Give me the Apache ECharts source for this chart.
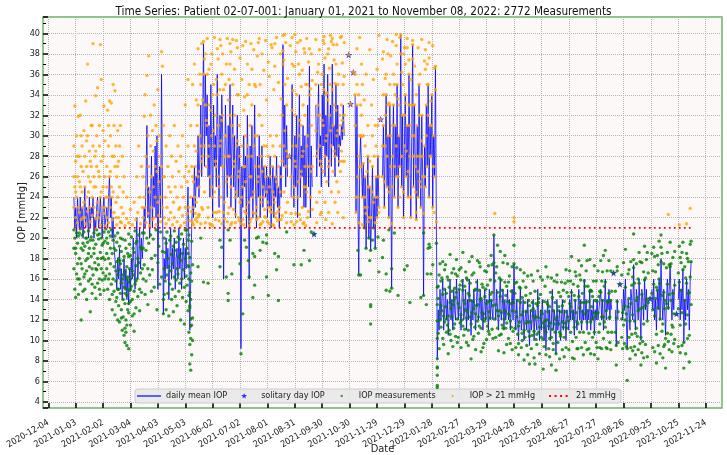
<!DOCTYPE html>
<html><head><meta charset="utf-8">
<script src="https://cdn.jsdelivr.net/npm/echarts@6/dist/echarts.min.js"></script>
<style>html,body{margin:0;padding:0;background:#fff}#c{width:727px;height:455px}</style>
</head><body><div id="c"></div>
<script>
// day index d = days since 2021-01-01
const titleText = 'Time Series: Patient 02-07-001: January 01, 2021 to November 08, 2022: 2772 Measurements';
const threshold = 21;
const firstDay = 0, lastDay = 676;

// daily mean IOP: [startDay, values...] ; breaks between segments
const meanSegments = [
 [0, 24,21,23,20,24,22,21,24,21,23,20,22,25,21,23,22,20,24,21,23,22,24,20,22,21,23,24,21,22,24,22,20,23,24,21,22,
  23,21,24,26,22,24,20,22,19,18,
  17,15,18,16,19,15,17,14,16,18,15,17,14,16,13.5,17,15,18,16,20,17,15,19,22,16,18,21,17,20,18,
  20,23,21,26,31,22,25,20,24,28,21,26,23,29,22,30,15,24,27,22,36,25,12.6,
  18,16,20,17,19,14,18,21,16,19,17,20,15,18,19,16,21,17,19,15,18,20,16,19,17,22,25,19,11,16,21,
  24,22,27,23,26,25,30,24,28,33,26,31,39,27,36,30,
  34,26,31,24,35,28,22,33,27,30,25,36,29,23,32,27,34,
  30,16,26,33,
  28,24,31,26,35,23,29,33,25,30,22,27,32,24,29,26,
  9.2,
  27,23,30,25,28,21,32,26,16,29,24,31,22,27,33,25,21,28,24,30,22,26,29,23,27,25,
  24,27,22,26,23,28,21,25,27,22,26,24,28,23,25,21,27,24,
  30,38.9,27,33,25,31,26],
 [238, 24,35,27,23,30,25,32,22,28,34,24,29,26,31,23,30,23,27,33,25,36.8,22,29,25],
 [265, 33,26,31,35,27,30,25,34,29,37,26,32,28,36,25,30,33,27,37,29,31,26,35,28,33,27,30,29,31,29.6,33,30],
 [308, 34,22.5,33,24,16.4,27,30,29.9,24,27.3,21,26,19,23,28,20,25,18.8,22,27,21,24,19,26,22,28,23],
 [338, 26,31,23,29,34,25,30,22,33,27,15.1,
  28,33,24,31,26,35,23,30,27,39.9,25,32,22,29,34,26,31,24,36,28,22,30,38.9,25,33,27,21.8,31,24,35,28,23,32,26,
  14.4,29,25,33,27,35,24,31,28,34,23,30,26,36.8,21.6,8.2,
  13,11,15,12,14,16,11,13,15,12,14,10.5,13,16,12,14,11,15,13,12,16,14,
  12,15,13,11,14,16,12,13,15,11,14,12,16,13,10.5,14,12,15,13,11,14,16,12,13,15,12,14,11,13,15,12,14,13,11,15,12,14,13,12,
  20.3,
  14,12,15,13,11,14,16,12,13,15,11,14,12,13,15,12,14,11,13,15,12,
  17.5,
  13,11,14,12,10,13,15,11,12,14,10,12,13,11,14,12,9.5,13,11,12,14,10,13,12,11,15,12,10,13,11,14,12,10,13,9,12,14,11,13,10,12,15,11,13,12,8.7,14,11,12,13,10,12,14,11,13,12,10,13,
  13,11,14,12,15,12,13,10.5,14,12,11,13,15,12,14,11,13,12,16,12,14,11,13,12,15,11,13,12,14,10.5,13,12,14,12,13,
  13,15,12,14,11,13,16,12,14,13,15,12,14,13],
 [593, 13,9.5,14,12],
 [600, 14,12,15,13,16,12,9.2,14,13,11,15,14,12,17.4,13,11,15,14,12,16,13,10,15,14,12,16,13,15,12,14],
 [633, 15,13,16,12,14,11,15,13,16,12,18,14,12,15,13,10.5,14,16,13,15,17.5,14,12,15,13,16],
 [662, 14,16,12,15,13,17,9.8,14,12,16,13,15,11,16,17.7]
];

// solitary days: [day, value]
const solitaryDays = [[236,28],[263,20.4],[301,37.9],[303,33.1],[306,36.2],[336,31.6],[591,16.6],[598,15.5],[631,14.1],[660,12.6]];

// individual measurements, first year: [day, values...]
const measurements = [
[0,23,26,29,20.8,19,17],[1,32.9,25,20,15],[2,22,27.5,18.5,14.2],[3,24,30,20.5,16.5],[4,21.5,26,19.5,17.5],[5,31.9,23,14.5,20.2],[6,28,22.5,18,16],[7,25,32,20.9,15.5],[8,21.8,27,12,19],[9,24.5,29,17,20.3],
[10,22,26.5,14.8,18.8],[11,30.5,23.5,16.2,20.6],[12,28,25,19.2,15],[13,21.4,33.4,17.8,20],[14,27,24,16.8,14],[15,22.6,30,37,19.6,18],[16,26,15.8,20.7],[17,23,28.5,17.2,19],[18,25.5,21.6,12.8,16],[19,31,27,20.1,18.2],
[20,24,22.2,14.6,17],[21,29,39,19.8,16.4],[22,26,23,20.5,18.5],[23,28,15.2,17.6],[24,21.9,25,33.9,19.4,14.1],[25,30,27,16.9,20.8],[26,34.7,23.5,18,15.6],[27,26.5,22,19.9,17.4],[28,29,31,16,20.4],[29,24,21.3,38.9,14.5,18.6],
[30,27.5,35.5,17,20],[31,23,15.9,19.3],[32,25,28,18.1,16.6],[33,32.9,22.4,20.6,14.9],[34,26,29.5,17.9,19.7],[35,24,21.2,16.3,20.9],[36,22,27,20,17],[37,32.5,24,19.5,15],[38,29,21.5,18,20.6],[39,33.4,26,16.5,14],
[40,23,30,19,17.5],[41,25,33.2,20.8,15.5],[42,28,21.8,18.5,13],[43,24.5,35,16,19.8],[44,31,22.5,14.8,17.2],[45,27,34.4,20.2,12.5],[46,23.5,29,18.8,15.8,16.8],[47,26,21.3,19.6,14.2,17.7],[48,30.5,24,16.4,12,20.5],[49,22,27.5,18,15,13.4],
[50,25,19.2,16.9,11.8],[51,31,21.6,17.5,14.6,20],[52,23,15.6,18.7,13],[53,28,16,19.9,11],[54,22.4,14,17.8,12.3],[55,26,18.2,15.2,10.5],[56,21.2,16.7,13.6,9.8],[57,19,15,12,10.8],[58,24,17.2,14.4,11.5,9.5],[59,16.2,13,18.5],
[60,21.5,20.4,15.7,12.7,9.2],[61,17,14.9,19.4],[62,22.8,16,13.8,18.3],[63,20.1,15.3],[64,21.3,17.9,14],[65,19,16.4],[66,23.5,12.6,18.6],[67,15.5,20.7],[68,21.8,17.3,13.2],[69,26,19.7,16],
[70,22.5,14.3,18],[71,29,17.6,20.3],[72,24,15,12.9],[73,21.4,19.1,16.6],[74,27,14.7,18.9],[75,23,17,20.5],[76,22,26,19,16],[77,31.9,24,20.5,17.4],[78,23,34,14.5],[79,28,21.5,18.8,15.8],
[80,35.9,25,20],[81,30,22.4,17,13.5],[82,37.8,27,19.5],[83,24.5,21.2,16.4],[84,29,32,20.3],[85,26,23,18,14.8],[86,21.8,30.5,16.9],[87,25,28.5,19.9],[88,33,22,15.2],[89,27,24,18.3],
[90,31,21.3,20.8],[91,26.5,29.5,13],[92,23.5,34.5,17.6],[93,25.5,22.2,19.2],[94,28,30,15.5],[95,24,21.6,20.6],[96,38.2,27,16.2],[97,36.8,23,18.7],[98,26,31,12.6,14],[99,22,26,20,17,14.5],
[100,24,18.6,15.8],[101,29,21.4,19.5,13],[102,23,16.4,20.6],[103,27,18,14.6],[104,21.8,25,17.2,12.4],[105,30,19.8,15.5],[106,22.5,24.5,16.8,20.2],[107,28,14,18.4],[108,21.3,26,17.5,15],[109,23.5,19.2,12.8],
[110,31,22,16.2,20.7],[111,25,18.8,14.3],[112,27.5,15.9,19.6],[113,21.6,24,17,13.4],[114,29,20.1,16.5],[115,22.8,26.5,18.2,14.8],[116,23,19.9,15.6],[117,21.2,28,17.8,12],[118,25,16,20.4],[119,22.2,30,14.2,18.5],
[120,24,19.4,16.9],[121,26,21.5,15.2,11.6],[122,23,33,18,20.8],[123,27,16.3,13.8],[124,22.4,25.5,19,15.4,20.8],[125,29,35.5,17.3,12.9,19.8,18.5],[126,23,26.5,20.3,14.4,10.8,17.2,16],[127,21.7,18.1,13.2,9.6,7.7,14.7,13.4],[128,24,31,16.6,11.4,7.1,14,12.1,10.2],[129,22.6,27,19.7,15.8,8.6,11.5],
[130,26,21.5,12.2,17.4,10],[131,23,25.5],[132,29,24],[133,21.8,27],[134,28.5,23.5],[135,22,31],[136,33,26,17.2],[137,25,22.3],[138,30,26.5],[139,35,29,20],
[140,27.5,23],[141,33.5,28],[142,39.2,36,15.7],[143,29,24.5],[144,38,33],[145,31.5,27],[146,36,31],[147,28,23,15.6],[148,33,29],[149,26,21.4],
[150,37,32.5],[151,30,25],[152,24,21.2],[153,35,30.5],[154,29,24.5],[155,32,27.5],[156,27,22.5],[157,38.5,34],[158,31,26],[159,25,21.7],
[160,34.5,29,19.8,17.2],[161,29.5,24,38.8],[162,36,31.5,19.1],[163,32,27],[164,22.5],[165,28,23.5],[166,35,30],[167,30,25.5,16.2],[168,26,21.6],[169,33.5,28,20.8,14.6,13.9],
[170,28,23],[171,37,32,19.8,39],[172,25,21.3],[173,31,26,16.5],[174,35,30],[175,27,22.8],[176,32,27.5],[177,24,21.5],[178,29,24.5,39.3],[179,34,29.5],
[180,26,22],[181,31,26.5],[182,28,23.5,17.5],[183,21.4,8.7],[184,29,24],[185,25,21.8,12.6],[186,32.5,27],[187,27,22.6,19.8],[188,30,25.5],[189,23,19.1],
[190,34,29],[191,28,23.5,17.8],[192,21.2,16.2],[193,31,26],[194,26,21.9],[195,33,28],[196,24,18.5,14.2],[197,29,24.5],[198,35,30,18.2,15.4],[199,27,22.4],
[200,23,20],[201,30,25.5],[202,26,22,39.1,20.1],[203,32,27],[204,24,21.3,18.8],[205,28,23.5],[206,31,26.5],[207,25,21.6,19.6],[208,29,24],[209,27,22.8],
[210,26,22],[211,29,24.5,19.5,16.2,20.3],[212,23.5],[213,28,23,14.4],[214,25,21.4],[215,30,26],[216,23,38.9],[217,27,22.5],[218,29,24.5],[219,24,21.2],
[220,28,23.5,18.5,39],[221,26,22],[222,30,25.5,16.9],[223,25,21.7],[224,27,22.6,18.2,13.9],[225,23],[226,29,24.5],[227,26,21.8],[228,32,27.5],[229,39.8,37,38.3],
[230,29,24.5],[231,35,30.5,39.9],[232,27,22.5],[233,33,28.5,20.6],[234,28,23.5],[236,28],[238,26,21.6],[239,37,32.5],
[240,29,24],[241,25,21.3,17.4],[242,32,27.5,39.9],[243,27,22.4],[244,34,29],[245,24,39.1],[246,30,25.5],[247,36,31.5],[248,26,21.8],[249,31,26.5,17.4],
[250,28,23],[251,33,28.5],[252,25,21.5,18.8],[253,32,27,38.1],[254,25,21.2],[255,29,24.5],[256,35,30],[257,27,22.6],[258,38.5,34,17.8],[259,24],
[260,31,26.5,20.6],[261,27,22.8],[263,20.4],[265,35,30.5],[266,28,23.5],[267,33,28.5],[268,37,32],[269,29,24.5],
[270,32,27.5],[271,27,22.5],[272,36,31.5],[273,31,26.5],[274,39,34.5,39.7],[275,28,23.5],[276,34,29.5],[277,30,25.5],[278,38,33.5],[279,27,22.5],
[280,32,27.5],[281,35,30.5,39.8],[282,29,24.5],[283,39.5,34.5],[284,31,26.5,38.9],[285,33,28.5],[286,28,23.5],[287,37,32.5],[288,30,25.5],[289,35,30.5],
[290,29,24.5],[291,32,27.5],[292,31,26.5],[293,33,28.5,39.7],[294,31.5,27.5],[295,35,30.5],[296,32,27.5,39.1],[301,37.9],[303,33.1],[306,36.2],
[308,34,36,31],[309,22.5,24],[310,33,35],[311,24,18.8,26],[312,16.4,21.5,28],[313,27,39.6,30],[314,30,16.4,33],[315,29.9,27,32],[316,24,21.3,35],[317,27.3,30],
[318,21,23],[319,26,29,24],[320,19,22.4],[321,23,26.5],[322,28,31,25],[323,20,22],[324,25,17.8,27.5],[325,18.8,13.5,13.3,11.6,22],[326,22,24.5],[327,27,19.8,30],
[328,21,23.5],[329,24,28],[330,19,21.5],[331,26,29],[332,22,24],[333,28,20.1,31],[334,23,26,39.8,16.7],[336,31.6],[338,26,37.5,18.1,29],[339,31,19.8,34],
[340,23,25.5],[341,29,32],[342,34,16.5,14.9,36],[343,25,28],[344,30,38,33],[345,22,20.8,24.5],[346,33,14.8,35],[347,27,30],[348,15.1,21.4,17],[349,28,31,25],
[350,33,36],[351,24,20.5,27],[352,31,34],[353,26,39.9,29],[354,35,37],[355,23,14.4,26],[356,30,33],[357,27,24],[358,39.9,38],[359,25,28],
[360,32,35],[361,22,24.5],[362,29,16.9,38.6,32],[363,34,37],[364,26,28.5],[365,31,17.3,38.6],[366,24,26.5],[367,36,33],[368,28,13.7,31],[369,22,24],
[370,30,33],[371,38.9,37.5],[372,25,28],[373,33,30],[374,27,24.5],[375,21.8,22.5],[376,31,28],[377,24,26.5],[378,35,32],[379,28,25.5],
[380,23,14.2,25],[381,32,29.5],[382,26,28],[383,14.4,20.5],[384,29,37.3,26],[385,25,36.5],[386,33,13.5,30],[387,27,16.5,37],[388,35,19,32],[389,24,19.4,39.1],
[390,31,19.1,28],[391,28,16.5],[392,34,31],[393,23,17.4],[394,30,27],[395,26,22.5],[396,36.8,34.5],[397,21.6,19.5],[398,8.2,15.2,13.5,11.9,10.2,7.3,5.6,5.4,6.6,7.4]
];

const measurementsMore = [
[2,24.5,19],[4,28,16],[6,25.5,20.5],[8,30,17.5],[10,23,19.5],[12,22,16.5],[14,29.5,20],[16,24.5,18.5],[18,27.5,19.8],[20,31,15.5],
[22,25,19],[24,28.5,17],[26,22.5,20.3],[28,26,15],[30,24.5,18],[32,30.5,19.5],[34,23,16],[36,25,18.5],[38,31,16],[40,26.5,20.2],
[42,24,14.5],[44,28,19],[46,22,13.8],[48,27,15],[50,29,17.8],[52,21.5,12.2],[54,24.5,16.4],[56,19.8,14.6,11.2],[58,21.9,16],[60,13.6,18.2],
[62,11.5,15],[64,12.4,16.8],[66,14.8,10.9],[68,19.5,15.8],
[130,35],[131,21.3],[132,37],[133,22.4],[134,33.5],[135,21.6],[136,38.5],[137,22.2],[138,36],[139,21.4],[140,39],[141,22.8],[143,37.5],[144,21.5],
[146,39.5],[147,22],[148,36.5],[150,21.3],[151,38],[152,34],[153,22.5],[154,39.6],[155,21.8],[156,35.5],[158,37.5],[159,22.6],[160,39.4],[162,21.4],
[163,38],[164,34.5],[165,21.9],[167,37],[168,39.5],[169,22.4],[170,35.5],[172,38.2],[173,21.5],[174,39.4],[176,36.5],[177,22.3],[179,38.6],[180,34],
[181,21.7],[182,37.6],[184,35.5],[185,38.8],[186,21.3],[187,33.8],[188,39.2],[189,22.4],[190,37],[192,35],[193,21.6],[194,39],[195,36.5],[196,22.5],
[197,38.4],[199,34.8],[200,21.8],[201,37.8],[203,39.5],[204,35],[205,21.4],[206,38],[208,36.4],[209,22.1],[210,39.3],[211,33.5],[212,21.6],[213,37.2],
[214,35.8],[215,22.6],[217,38.6],[218,21.3],[219,34.5],[220,36.8],[221,22.4],[222,39.6],[224,35.2],[225,21.8],[226,38],[227,33.6],[228,22.2],[230,37.4],
[232,39.1],[233,21.5],[234,35.6],[237,38.8],[238,22.4],[239,39.6],[240,34.4],[241,36.8],[243,38.2],[244,21.6],[246,37],[247,22.3],[248,39.3],[249,34.8],
[250,36.4],[251,21.4],[252,38.5],[254,35],[255,39.5],[256,22],[257,37.2],[259,34.6],[260,38],[261,35.4],[265,39.4],[266,21.5],[267,36.2],[269,38.4],
[270,22.3],[271,35],[273,39.3],[275,37.6],[276,21.8],[277,34.2],[279,38.5],[280,36.6],[282,39.2],[283,21.4],[285,37.4],[286,35.1],[288,38.9],[289,22.5],
[290,36],[292,39.6],[294,37.1],[295,22],[296,35.8],
[310,38.5],[312,34],[315,37],[318,33.5],[320,36],[322,21.6],[324,38.4],[326,33],[328,35.5],[330,31],[332,36.5],[334,22.5],[339,38.2],[341,35.6],
[343,39.4],[345,33.2],[347,37.8],[349,39.2],[351,35],[353,38.8],[355,33.6],[357,39.6],[359,36.2],[361,38],[363,33.2],[365,39.5],[367,37.4],[369,35.5],
[371,39.3],[373,36.8],[375,34],[377,38.6],[379,36],[381,39.4],[383,22.4],[385,38.4],[387,35],[389,37.6],[391,33.4],[393,38.8],[395,36.6]
];

// individual measurements, second period: [day, values...]
const measurementsLate = [
[399,15.3,14.1,10.7],[400,12.6,9.2,16.4],[401,17.5,12.0],[402,11.3,15.8,13.4],[403,16.1,12.9],[404,17.7,14.5,10.2],[405,12.4,9.6],[406,15.0,11.8,16.9],[407,17.4,13.3],[408,10.8,14.6,12.1],
[409,16.2,11.5],[410,8.7,12.4,15.9],[411,15.2,11.0],[412,18.4,13.7,10.6],[413,13.1,10.0],[414,16.6,12.3,14.8],[415,9.4,13.5],[416,17.0,13.9,11.2],[417,11.6,15.1],[418,14.2,10.4,16.5],
[419,17.9,14.7],[420,12.1,16.3,9.8],[421,13.6,10.3],[422,16.9,13.2,15.0],[423,11.7,15.4],[424,9.3,12.5,17.1],[425,15.8,12.0],[426,18.6,14.9,11.4],[427,10.5,13.9],[428,15.3,11.1,13.6],
[429,16.7,13.0],[430,9.8,12.2,16.1],[431,15.9,12.8],[432,11.0,14.6,9.5],[433,17.7,14.4],[434,12.3,15.6,13.9],[435,8.2,11.6],[436,16.4,12.7,18.2],[437,10.1,13.8],[438,16.6,13.1,10.4],
[439,11.3,14.9],[440,9.1,12.6,15.0],[441,15.7,13.4],[442,17.8,13.5,11.9],[443,10.7,12.3],[444,14.9,11.4,17.6],[445,17.2,14.0],[446,11.2,8.9,14.1],[447,15.5,12.7],[448,12.0,15.2,9.3],
[449,9.7,12.6],[450,16.8,14.3,11.9],[451,12.2,15.0],[452,10.1,13.6,16.7],[453,15.4,11.4],[454,13.8,17.3,10.9],[455,10.6,12.8],[456,15.9,12.2,14.5],[457,18.3,13.9],[458,11.1,14.7,17.4],
[459,13.4,10.2],[460,20.3,17.6],[461,15.8,12.1,22.4],[462,13.5,10.3,16.6],[463,17.2,12.9],[464,14.7,11.2,19.3],[465,9.0,12.4],[466,16.1,12.9,10.5],[467,18.7,14.3],[468,10.6,12.7,15.9],
[469,14.9,11.5],[470,17.6,13.8,11.2],[471,8.8,12.1],[472,15.7,12.9,18.3],[473,11.2,14.4],[474,15.3,11.7,9.6],[475,17.5,13.8],[476,10.2,12.6,15.7],[477,16.3,12.4],[478,9.7,11.9,13.6],
[479,14.8,11.3],[480,17.2,12.9,9.1],[481,10.9,13.7],[482,17.5,22.0,21.6,19.3],[483,14.6,11.2,15.6],[484,12.8,9.3],[485,15.7,12.3,17.1],[486,13.9,10.6],[487,8.6,11.4,9.7],[488,15.2,11.8],
[489,16.9,13.7,15.1],[490,9.3,12.5],[491,14.2,10.7,10.0],[492,15.8,12.8],[493,8.1,11.0,16.6],[494,13.7,10.3],[495,15.2,11.7,14.4],[496,12.8,9.5],[497,16.3,11.8,8.6],[498,13.9,10.9],
[499,7.7,10.4,13.4],[500,14.6,11.8],[501,9.2,12.9,16.4],[502,13.7,10.5],[503,15.8,12.4,13.1],[504,8.3,10.9],[505,14.8,12.2,7.7],[506,13.6,10.1],[507,9.6,12.3,10.6],[508,16.8,13.4],
[509,13.7,10.8,14.1],[510,8.7,11.3],[511,14.5,12.2,16.2],[512,10.3,12.8],[513,15.9,11.7,12.6],[514,7.2,10.1],[515,13.8,11.3,9.4],[516,15.3,11.9],[517,8.6,10.8,17.2],[518,13.7,12.0],
[519,16.2,12.8,13.5],[520,9.2,11.4],[521,13.3,10.2,8.4],[522,14.7,11.7],[523,7.6,10.3,16.1],[524,14.2,11.1],[525,12.9,9.1,9.7],[526,15.8,11.6],[527,10.8,13.7,12.1],[528,8.7,7.1],
[529,15.7,12.3,16.4],[530,9.8,12.9],[531,14.7,11.6,13.3],[532,8.2,10.8],[533,14.3,10.4,10.6],[534,12.8,15.7],[535,9.1,11.8,13.4],[536,14.9,11.3],[537,10.3,13.8,8.4],[538,15.6,11.7],
[539,9.3,12.8,16.9],[540,14.7,11.2],[541,15.8,12.3],[542,9.1,11.9,14.3],[543,16.8,13.6],[544,10.8,13.3,15.8],[545,18.2,14.7],[546,9.9,12.8,8.3],[547,15.5,12.2],[548,8.2,11.3,14.4],
[549,16.7,13.9],[550,10.3,12.7,16.3],[551,9.2,11.8],[552,15.3,11.6,9.2],[553,17.8,14.3],[554,10.8,13.2,16.4],[555,15.9,13.7],[556,9.3,11.8,17.3],[557,14.6,12.8],[558,10.8,13.7,8.6],
[559,19.3,15.8],[560,9.8,12.6,15.3],[561,16.8,13.7],[562,9.1,11.8,17.8],[563,15.3,12.9],[564,10.7,13.8,9.2],[565,17.9,14.8],[566,8.7,11.8,14.9],[567,14.8,13.3],[568,12.1,10.3,14.3],
[569,15.8,12.7],[570,8.6,10.8,17.3],[571,13.9,12.3],[572,15.8,12.6,9.8],[573,9.3,13.8],[574,16.8,12.7,8.2],[575,10.8,14.3],[576,14.8,11.6,9.3],[577,17.8,14.7],[578,9.2,12.3,15.8],
[579,16.7,13.9],[580,10.2,12.3,18.3],[581,15.3,11.8],[582,18.8,15.7,11.3],[583,9.3,12.9],[584,16.8,13.8,9.2],[585,10.8,13.7],[586,17.8,14.6,12.2],[587,9.8,12.3],[588,16.8,13.9,9.1],
[589,10.8,14.8],[591,16.6],[593,14.8,10.8],[594,9.5,7.6,12.2],[595,16.8,13.8,17.2],[596,9.8,12.8],[598,15.5],
[600,16.4,12.1,10.3],[601,9.2,12.7],[602,17.6,13.0,11.5],[603,9.7,13.4],[604,18.9,15.2,12.0],[605,9.4,12.6],[606,9.2,6.1],[607,16.5,13.3],[608,10.3,14.1,16.9],[609,8.2,11.9],
[610,17.7,13.6,9.3],[611,10.6,15.4],[612,9.0,12.5,16.2],[613,20.4,17.9,17.1],[614,15.6,11.9,9.4],[615,8.6,10.7],[616,17.5,13.9,11.2],[617,10.4,14.2],[618,9.1,12.9,16.0],[619,18.6,15.6],
[620,9.7,13.1,17.7],[621,7.6,10.3],[622,17.6,14.5,8.8],[623,9.9,13.2],[624,8.3,11.6,16.7],[625,19.2,15.9],[626,9.6,13.4,16.1],[627,17.9,14.0],[628,8.4,11.9,18.6],[629,16.6,13.7],
[631,14.1],[633,18.5,14.6],[634,9.3,13.0,16.8],[635,19.1,15.5],[636,8.9,12.4,18.2],[637,16.7,14.1],[638,7.8,10.6,15.2],[639,18.3,14.9],[640,9.5,13.2,17.4],[641,19.7,16.0],
[642,8.7,12.1,15.6],[643,20.3,17.7,19.1],[644,10.9,14.4,18.5],[645,8.3,11.6],[646,17.5,14.7,9.4],[647,9.6,13.1],[648,7.3,10.2,13.9],[649,17.1,13.6],[650,18.6,15.5,10.7],[651,9.9,13.2,22.3],
[652,17.4,14.5,9.1],[653,19.6,17.2],[654,10.6,13.9,17.5],[655,8.9,11.5],[656,18.1,14.6,11.3],[657,9.7,12.6],[658,18.7,15.4,10.1],[660,12.6],[662,16.6,13.1,9.4],[663,19.2,15.7,21.3],
[664,8.8,11.5,18.1],[665,17.6,14.9],[666,9.5,12.7,18.6],[667,19.6,16.9],[668,9.8,7.3],[669,17.2,13.9],[670,8.7,11.6,16.1],[671,18.5,15.6,21.4],[672,10.2,12.5,18.0],[673,17.7,14.6],
[674,7.9,10.5,14.7],[675,19.4,16.2,22.9],[676,19.7,17.7,13.5]
];

// axis: value = day + OFFSET, so 2020-12-04 -> 30 and ticks every 30 days
const OFFSET = 58;
const START = Date.UTC(2021, 0, 1);
const xMin = -33.8 + OFFSET, xMax = 709.8 + OFFSET;
const yMin = 3.4, yMax = 41.6;

const lineData = [];
let prevEnd = null;
meanSegments.forEach(seg => {
  const s = seg[0];
  if (prevEnd !== null) lineData.push([prevEnd + 1 + OFFSET, '-']);
  for (let i = 1; i < seg.length; i++) lineData.push([s + i - 1 + OFFSET, seg[i]]);
  prevEnd = s + seg.length - 2;
});
const starData = solitaryDays.map(p => [p[0] + OFFSET, p[1]]);
const green = [], orange = [];
measurements.concat(measurementsMore, measurementsLate).forEach(r => {
  for (let i = 1; i < r.length; i++) {
    const p = [r[0] + OFFSET, r[i]];
    (r[i] > threshold ? orange : green).push(p);
  }
});
const refLine = [[firstDay + OFFSET, threshold], [lastDay + OFFSET, threshold]];

function fmtDate(v) {
  if (Math.abs(((v - 30) % 30)) > 1e-6) return '';
  const dt = new Date(START + Math.round(v - OFFSET) * 864e5);
  return dt.toISOString().slice(0, 10);
}
const FONT = 'DejaVu Sans Condensed';
const starPath = 'path://M5,0L6.18,3.38L9.76,3.45L6.9,5.62L7.94,9.05L5,7L2.06,9.05L3.1,5.62L0.24,3.45L3.82,3.38Z';
const starIcon = 'path://M-3,-3M13,13M5,0L6.18,3.38L9.76,3.45L6.9,5.62L7.94,9.05L5,7L2.06,9.05L3.1,5.62L0.24,3.45L3.82,3.38Z';
const dotIcon = 'path://M0,0M12,12M6,4.6A1.4,1.4,0,1,1,6,7.4A1.4,1.4,0,1,1,6,4.6Z';
const lineIcon = 'path://M0,0M24,10M0,4.4L24,4.4L24,5.6L0,5.6Z';
const dottedIcon = 'path://M0,0M24,10M2,4L4,4L4,6L2,6ZM7.5,4L9.5,4L9.5,6L7.5,6ZM13,4L15,4L15,6L13,6ZM18.5,4L20.5,4L20.5,6L18.5,6Z';

const chart = echarts.init(document.getElementById('c'), null, {renderer: 'canvas'});
chart.setOption({
  animation: false,
  backgroundColor: '#ffffff',
  title: {text: titleText, left: 'center', top: 1,
    textStyle: {fontFamily: FONT, fontSize: 11.7, fontWeight: 'normal', color: '#111'}},
  grid: {left: 43, right: 5, top: 17, bottom: 47, show: true, outerBoundsMode: 'none', containLabel: false,
    backgroundColor: '#fdf8f8', borderColor: '#5cb85c', borderWidth: 1.5},
  legend: {
    left: 135, top: 389, orient: 'horizontal',
    itemWidth: 24, itemHeight: 10, itemGap: 12,
    backgroundColor: 'rgba(232,232,232,0.85)', borderColor: '#cccccc', borderWidth: 1, borderRadius: 3,
    padding: [2, 5, 2, 2],
    textStyle: {fontFamily: FONT, fontSize: 9, color: '#222'},
    data: [
      {name: 'daily mean IOP', icon: lineIcon},
      {name: 'solitary day IOP', icon: starIcon},
      {name: 'IOP measurements', icon: dotIcon},
      {name: 'IOP > 21 mmHg', icon: dotIcon},
      {name: '21 mmHg', icon: dottedIcon}
    ]
  },
  xAxis: {
    type: 'value', min: xMin, max: xMax, splitNumber: 25,
    name: 'Date', nameLocation: 'middle', nameGap: 36, nameMoveOverlap: false,
    nameTextStyle: {fontFamily: FONT, fontSize: 11, color: '#222'},
    axisLine: {show: false},
    axisTick: {inside: true, length: 5, lineStyle: {color: '#000', width: 1.5}},
    axisLabel: {rotate: 30, formatter: fmtDate, fontFamily: FONT, fontSize: 9, color: '#222', margin: 14,
      showMinLabel: false, showMaxLabel: false},
    splitLine: {show: true, lineStyle: {color: '#b5b5b5', type: 'dotted', width: 1}}
  },
  yAxis: {
    type: 'value', min: yMin, max: yMax, splitNumber: 19,
    name: 'IOP [mmHg]', nameLocation: 'middle', nameGap: 15, nameMoveOverlap: false,
    nameTextStyle: {fontFamily: FONT, fontSize: 11, color: '#222'},
    axisLine: {show: false},
    axisTick: {inside: true, length: 5, lineStyle: {color: '#000', width: 1.5}},
    minorTick: {show: true, splitNumber: 2, length: 3, lineStyle: {color: '#000', width: 1}},
    axisLabel: {formatter: v => (Math.abs(v - Math.round(v)) < 1e-6 ? String(Math.round(v)) : ''),
      fontFamily: FONT, fontSize: 9, color: '#222', margin: 3, showMinLabel: false, showMaxLabel: false},
    splitLine: {show: true, lineStyle: {color: '#b5b5b5', type: 'dotted', width: 1}}
  },
  series: [
    {name: 'daily mean IOP', type: 'line', data: lineData, symbol: 'none', showSymbol: false,
      connectNulls: false, lineStyle: {color: '#0000ff', width: 1, opacity: 0.78}, itemStyle: {color: '#0000ff'}, z: 2},
    {name: 'solitary day IOP', type: 'scatter', data: starData, symbol: starPath, symbolSize: 7,
      itemStyle: {color: '#0000ff'}, z: 3},
    {name: 'IOP measurements', type: 'scatter', data: green, symbol: 'circle', symbolSize: 3.4,
      itemStyle: {color: '#008000'}, z: 4},
    {name: 'IOP > 21 mmHg', type: 'scatter', data: orange, symbol: 'circle', symbolSize: 3.4,
      itemStyle: {color: '#ffa500'}, z: 5},
    {name: '21 mmHg', type: 'line', data: refLine, symbol: 'none', showSymbol: false,
      lineStyle: {color: '#ff0000', width: 1.8, type: [1.8, 3.2]}, itemStyle: {color: '#ff0000'}, z: 6}
  ]
});
</script>
</body></html>
